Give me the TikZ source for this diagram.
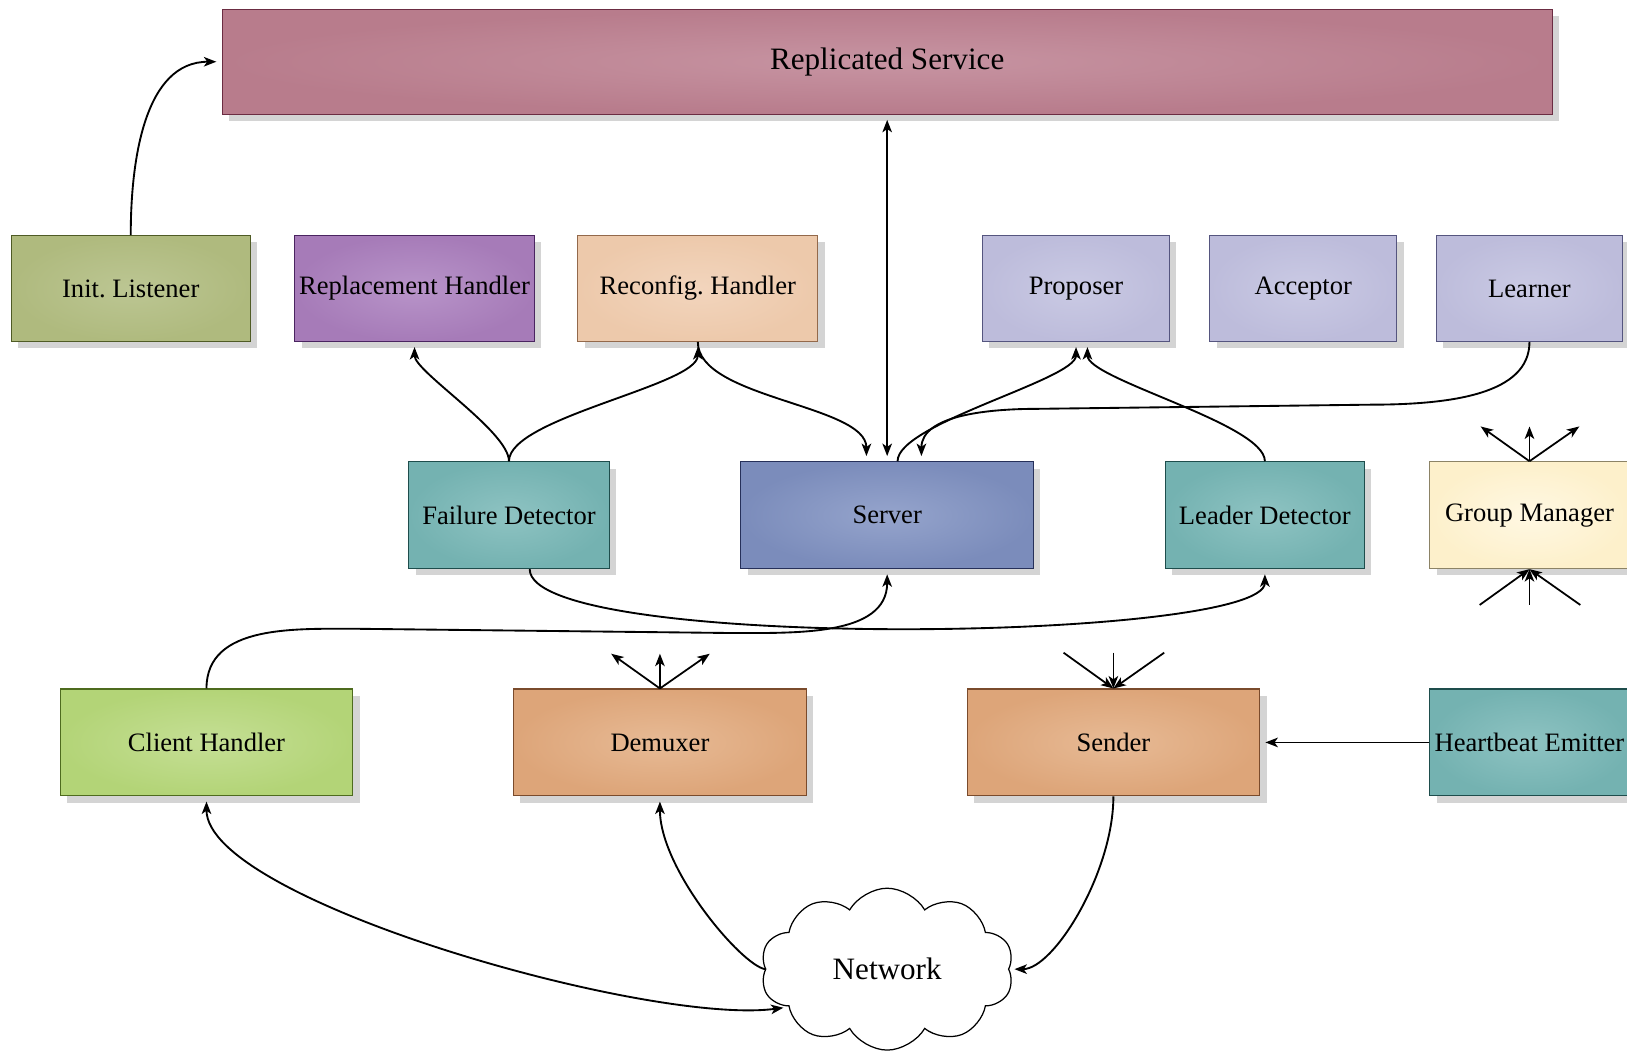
\documentclass[tikz,border=0pt]{standalone}
\usepackage{fontspec}
\setmainfont{Liberation Serif}
\usetikzlibrary{arrows.meta,shadows,shapes.symbols}

% fill (inner / outer) and border colours of the component families
\definecolor{rsin}{HTML}{C794A2}\definecolor{rsout}{HTML}{B87C8C}\definecolor{rsline}{HTML}{6B2C42}
\definecolor{ilin}{HTML}{BCC693}\definecolor{ilout}{HTML}{AFBA7E}\definecolor{illine}{HTML}{4F5B25}
\definecolor{rpin}{HTML}{B894C9}\definecolor{rpout}{HTML}{A67BB8}\definecolor{rpline}{HTML}{4A2460}
\definecolor{rcin}{HTML}{F2D5BD}\definecolor{rcout}{HTML}{EDC9AB}\definecolor{rcline}{HTML}{93694B}
\definecolor{pxin}{HTML}{CACAE4}\definecolor{pxout}{HTML}{BDBCDB}\definecolor{pxline}{HTML}{55557F}
\definecolor{tlin}{HTML}{8EC3C2}\definecolor{tlout}{HTML}{74B2B1}\definecolor{tlline}{HTML}{1E4D4C}
\definecolor{svin}{HTML}{95A4CC}\definecolor{svout}{HTML}{7B8CBB}\definecolor{svline}{HTML}{26305A}
\definecolor{gmin}{HTML}{FFF8E3}\definecolor{gmout}{HTML}{FDF0CB}\definecolor{gmline}{HTML}{8C8366}
\definecolor{chin}{HTML}{C5DF95}\definecolor{chout}{HTML}{B3D477}\definecolor{chline}{HTML}{4E6B1E}
\definecolor{orin}{HTML}{E7BA95}\definecolor{orout}{HTML}{DDA579}\definecolor{orline}{HTML}{7A4B2C}

\tikzset{
  blk/.style={rectangle, draw=#1line, line width=0.5pt,
    inner color=#1in, outer color=#1out,
    minimum height=51pt, inner sep=1pt,
    font=\fontsize{12.8}{15}\selectfont,
    drop shadow={shadow xshift=3.3pt, shadow yshift=-3.3pt, opacity=1, fill=black!17}},
  conn/.style={draw, line width=0.9pt, -{Stealth[length=6pt,width=4.6pt,inset=1.6pt]}, shorten >=2.5pt},
  both/.style={{Stealth[length=6pt,width=4.6pt,inset=1.6pt]}-{Stealth[length=6pt,width=4.6pt,inset=1.6pt]}, shorten <=2.5pt},
  stub/.style={draw, line width=0.85pt, -{Stealth[length=6pt,width=4.6pt,inset=1.6pt]}},
}

\begin{document}
\begin{tikzpicture}[x=0.5pt, y=-0.5pt]
\useasboundingbox (0,0) rectangle (1568,1013);

% top: the replicated service
\node[blk=rs, minimum width=641pt, minimum height=50.5pt, font=\fontsize{15}{18}\selectfont]
  (rs) at (855,59.5) {Replicated Service};

% first row
\node[blk=il, minimum width=115pt] (il)   at (126,278)   {Init.\ Listener};
\node[blk=rp, minimum width=115.5pt] (rh) at (399.5,278) {Replacement Handler};
\node[blk=rc, minimum width=115.5pt] (rc) at (672.5,278) {Reconfig.\ Handler};
\node[blk=px, minimum width=90pt] (prop)  at (1037,278)  {Proposer};
\node[blk=px, minimum width=90pt] (acc)   at (1256,278)  {Acceptor};
\node[blk=px, minimum width=90pt] (lrn)   at (1474,278)  {Learner};

% second row
\node[blk=tl, minimum width=96.5pt, minimum height=51.5pt] (fd)  at (490.5,496.5) {Failure Detector};
\node[blk=sv, minimum width=141pt,  minimum height=51.5pt] (srv) at (855,496.5)   {Server};
\node[blk=tl, minimum width=96pt,   minimum height=51.5pt] (ld)  at (1219,496.5)  {Leader Detector};
\node[blk=gm, minimum width=96pt,   minimum height=51.5pt] (gm)  at (1474,496.5)  {Group Manager};

% third row
\node[blk=ch, minimum width=141pt, minimum height=51.5pt] (ch)  at (199,715.5)  {Client Handler};
\node[blk=or, minimum width=141pt, minimum height=51.5pt] (dm)  at (636,715.5)  {Demuxer};
\node[blk=or, minimum width=141pt, minimum height=51.5pt] (snd) at (1073,715.5) {Sender};
\node[blk=tl, minimum width=96pt,  minimum height=51.5pt] (hb)  at (1474,715.5) {Heartbeat Emitter};

% the network
\node[cloud, draw, fill=white, line width=0.6pt, cloud puffs=10, cloud puff arc=120, aspect=1.5,
      minimum width=122pt, minimum height=78pt, inner sep=0pt, font=\fontsize{15}{18}\selectfont]
  (net) at (855,934) {Network};

% waypoints of the long connectors
\coordinate (c1) at (347,606);
\coordinate (c2) at (700,610);
\coordinate (l1) at (1320,390);
\coordinate (l2) at (1000,394);

% connectors
\draw[conn] (il.north) to[out=90,in=180] (rs.west);
\draw[conn,both] (srv.north) -- (rs.south);
\draw[conn] (fd.north) to[out=90,in=-90,looseness=0.5] (rh.south);
\draw[conn] (fd.north) to[out=90,in=-90,looseness=0.5] (rc.south);
\draw[conn] (rc.south) to[out=-90,in=90,looseness=0.7] ([xshift=-10pt]srv.north);
\draw[conn] ([xshift=5pt]srv.north) to[out=90,in=-90,looseness=0.45] (prop.south);
\draw[conn] (ld.north) to[out=90,in=-90,looseness=0.45] ([xshift=5.5pt]prop.south);
\draw[conn] (lrn.south) .. controls +(0,50) and +(80,0) .. (l1) -- (l2)
  .. controls +(-45,0) and +(0,-45) .. ([xshift=16.5pt]srv.north);
\draw[conn] ([xshift=10pt]fd.south) .. controls +(0,80) and +(0,70) .. (ld.south);
\draw[conn] (ch.north) to[out=90,in=180] (c1) -- (c2) to[out=0,in=-90] (srv.south);
\draw[conn] (hb.west) -- (snd.east);
\draw[conn] (snd.south) .. controls +(0,73) and +(43,0) .. (net.east);
\draw[conn] (net.west) .. controls +(-23,-4) and +(0,70) .. (dm.south);
\draw[conn,both] (ch.south) .. controls +(0,100) and +(-134,18) .. (net.201);

% fan-out and fan-in stubs
\coordinate (gmt1) at (1427,411); \coordinate (gmt2) at (1474,411); \coordinate (gmt3) at (1522,411);
\coordinate (gmb1) at (1426,583); \coordinate (gmb2) at (1474,583); \coordinate (gmb3) at (1523,583);
\coordinate (dmt1) at (589,630);  \coordinate (dmt2) at (636,630);  \coordinate (dmt3) at (684,630);
\coordinate (sdt1) at (1025,629); \coordinate (sdt2) at (1073,629); \coordinate (sdt3) at (1122,629);
\foreach \i in {1,2,3} {
  \draw[stub] (gm.north) -- (gmt\i);
  \draw[stub] (gmb\i) -- (gm.south);
  \draw[stub] (dm.north) -- (dmt\i);
  \draw[stub] (sdt\i) -- (snd.north);
}
\end{tikzpicture}
\end{document}
